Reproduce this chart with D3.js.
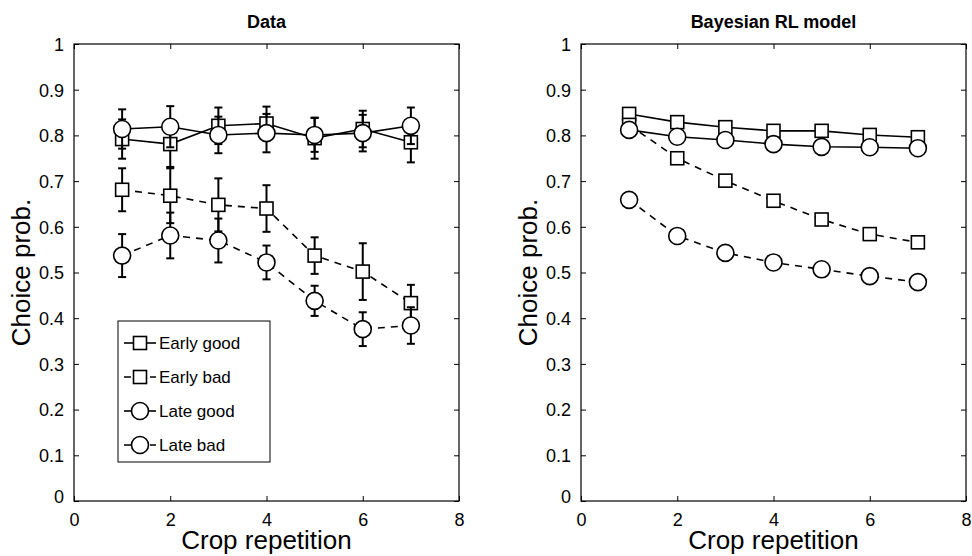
<!DOCTYPE html>
<html>
<head>
<meta charset="utf-8">
<script src="https://cdn.jsdelivr.net/npm/d3@7"></script>
<style>
  body { margin: 0; background: #fff; }
  svg text { font-family: "Liberation Sans", Arial, sans-serif; fill: #000; }
</style>
</head>
<body>
<script>
const width = 972,
  height = 556;

// crop repetition (x)
const reps = [1, 2, 3, 4, 5, 6, 7];
const xTicks = [0, 2, 4, 6, 8];
const yTicks = [0, 0.1, 0.2, 0.3, 0.4, 0.5, 0.6, 0.7, 0.8, 0.9, 1];

// left panel: observed data (mean, error)
const dataEarlyGood = [0.792, 0.781, 0.821, 0.826, 0.794, 0.814, 0.785];
const dataEarlyGoodErr = [0.043, 0.05, 0.04, 0.037, 0.045, 0.04, 0.044];
const dataEarlyBad = [0.681, 0.668, 0.648, 0.64, 0.537, 0.502, 0.433];
const dataEarlyBadErr = [0.047, 0.06, 0.058, 0.051, 0.04, 0.062, 0.04];
const dataLateGood = [0.814, 0.819, 0.801, 0.805, 0.801, 0.805, 0.821];
const dataLateGoodErr = [0.043, 0.045, 0.04, 0.042, 0.037, 0.04, 0.04];
const dataLateBad = [0.537, 0.581, 0.57, 0.522, 0.438, 0.376, 0.384];
const dataLateBadErr = [0.047, 0.05, 0.048, 0.037, 0.033, 0.037, 0.04];

// right panel: model predictions
const modelEarlyGood = [0.847, 0.829, 0.818, 0.81, 0.81, 0.801, 0.796];
const modelEarlyBad = [0.823, 0.75, 0.701, 0.657, 0.616, 0.584, 0.566];
const modelLateGood = [0.812, 0.797, 0.79, 0.781, 0.775, 0.774, 0.772];
const modelLateBad = [0.659, 0.58, 0.543, 0.522, 0.507, 0.492, 0.479];

const legendLabels = ["Early good", "Early bad", "Late good", "Late bad"];

const svg = d3
  .select("body")
  .append("svg")
  .attr("width", width)
  .attr("height", height);

const plotTop = 44,
  plotBottom = 501,
  plotW = 385;

function makePanel(left, title, series, withLegend) {
  const x = d3.scaleLinear().domain([0, 8]).range([left, left + plotW]);
  const y = d3.scaleLinear().domain([0, 1]).range([plotBottom, plotTop]);
  const g = svg.append("g");

  // frame
  g.append("rect")
    .attr("x", left)
    .attr("y", plotTop)
    .attr("width", plotW)
    .attr("height", plotBottom - plotTop)
    .attr("fill", "none")
    .attr("stroke", "#000")
    .attr("stroke-width", 1.2);

  const fmt = d => (d === 0 || d === 1 ? d3.format("d")(d) : d3.format(".1f")(d));

  // axes with inward ticks, mirrored
  const axB = g.append("g").attr("transform", `translate(0,${plotBottom})`)
    .call(d3.axisBottom(x).tickValues(xTicks).tickSizeInner(-5).tickSizeOuter(0).tickPadding(9));
  const axT = g.append("g").attr("transform", `translate(0,${plotTop})`)
    .call(d3.axisTop(x).tickValues(xTicks).tickSizeInner(-5).tickSizeOuter(0).tickFormat(""));
  const axL = g.append("g").attr("transform", `translate(${left},0)`)
    .call(d3.axisLeft(y).tickValues(yTicks).tickSizeInner(-5).tickSizeOuter(0).tickPadding(10).tickFormat(fmt));
  const axR = g.append("g").attr("transform", `translate(${left + plotW},0)`)
    .call(d3.axisRight(y).tickValues(yTicks).tickSizeInner(-5).tickSizeOuter(0).tickFormat(""));
  [axB, axT, axL, axR].forEach(a => {
    a.select(".domain").remove();
    a.selectAll("line").attr("stroke", "#000").attr("stroke-width", 1);
    a.selectAll("text").style("font-size", "18px").style("font-family", "Liberation Sans, Arial, sans-serif");
  });
  axL.selectAll("text").attr("dy", "0.35em");
  axB.selectAll("text").attr("dy", "0.88em");
  // MATLAB-style: bottom-left "0" sits slightly low
  axL.selectAll(".tick").filter(d => d === 0).select("text").attr("dy", "0.1em");

  // title
  g.append("text")
    .attr("x", left + plotW / 2)
    .attr("y", 28)
    .attr("text-anchor", "middle")
    .style("font-size", "18px")
    .style("font-weight", "bold")
    .text(title);

  // axis labels
  g.append("text")
    .attr("x", left + plotW / 2)
    .attr("y", 549)
    .attr("text-anchor", "middle")
    .style("font-size", "26px")
    .text("Crop repetition");
  g.append("text")
    .attr("transform", `translate(${left - 44},${(plotTop + plotBottom) / 2}) rotate(-90)`)
    .attr("text-anchor", "middle")
    .style("font-size", "26px")
    .text("Choice prob.");

  const line = d3.line().x((d, i) => x(reps[i])).y(d => y(d));

  series.forEach(s => {
    // error bars
    if (s.err) {
      const eb = g.append("g");
      s.values.forEach((v, i) => {
        const cx = x(reps[i]);
        const y0 = y(v - s.err[i]),
          y1 = y(v + s.err[i]);
        eb.append("line").attr("x1", cx).attr("x2", cx).attr("y1", y0).attr("y2", y1);
        eb.append("line").attr("x1", cx - 4).attr("x2", cx + 4).attr("y1", y0).attr("y2", y0);
        eb.append("line").attr("x1", cx - 4).attr("x2", cx + 4).attr("y1", y1).attr("y2", y1);
      });
      eb.selectAll("line").attr("stroke", "#000").attr("stroke-width", 2);
    }
    g.append("path")
      .datum(s.values)
      .attr("d", line)
      .attr("fill", "none")
      .attr("stroke", "#000")
      .attr("stroke-width", 1.6)
      .attr("stroke-dasharray", s.dashed ? "7,6" : null);
    drawMarkers(g, s.marker, s.values.map((v, i) => [x(reps[i]), y(v)]));
  });

  if (withLegend) {
    const lx = 118,
      ly = 321,
      lw = 152,
      lh = 141;
    g.append("rect")
      .attr("x", lx)
      .attr("y", ly)
      .attr("width", lw)
      .attr("height", lh)
      .attr("fill", "#fff")
      .attr("stroke", "#000")
      .attr("stroke-width", 1);
    series.forEach((s, i) => {
      const cy = ly + 22 + i * 34;
      g.append("line")
        .attr("x1", lx + 6)
        .attr("x2", lx + 38)
        .attr("y1", cy)
        .attr("y2", cy)
        .attr("stroke", "#000")
        .attr("stroke-width", 1.6)
        .attr("stroke-dasharray", s.dashed ? "7,6" : null);
      drawMarkers(g, s.marker, [[lx + 22, cy]]);
      g.append("text")
        .attr("x", lx + 41)
        .attr("y", cy)
        .attr("dy", "0.35em")
        .style("font-size", "17px")
        .text(legendLabels[i]);
    });
  }
}

function drawMarkers(g, marker, pts) {
  const sel = g.append("g").selectAll(null).data(pts);
  if (marker === "square") {
    sel.join("rect")
      .attr("x", d => d[0] - 6.5)
      .attr("y", d => d[1] - 6.5)
      .attr("width", 13)
      .attr("height", 13)
      .attr("fill", "#fff")
      .attr("stroke", "#000")
      .attr("stroke-width", 1.6);
  } else {
    sel.join("circle")
      .attr("cx", d => d[0])
      .attr("cy", d => d[1])
      .attr("r", 8.5)
      .attr("fill", "#fff")
      .attr("stroke", "#000")
      .attr("stroke-width", 1.6);
  }
}

makePanel(74, "Data", [
  { values: dataEarlyGood, err: dataEarlyGoodErr, marker: "square", dashed: false },
  { values: dataEarlyBad, err: dataEarlyBadErr, marker: "square", dashed: true },
  { values: dataLateGood, err: dataLateGoodErr, marker: "circle", dashed: false },
  { values: dataLateBad, err: dataLateBadErr, marker: "circle", dashed: true }
], true);

makePanel(581, "Bayesian RL model", [
  { values: modelEarlyGood, marker: "square", dashed: false },
  { values: modelEarlyBad, marker: "square", dashed: true },
  { values: modelLateGood, marker: "circle", dashed: false },
  { values: modelLateBad, marker: "circle", dashed: true }
], false);
</script>
</body>
</html>
